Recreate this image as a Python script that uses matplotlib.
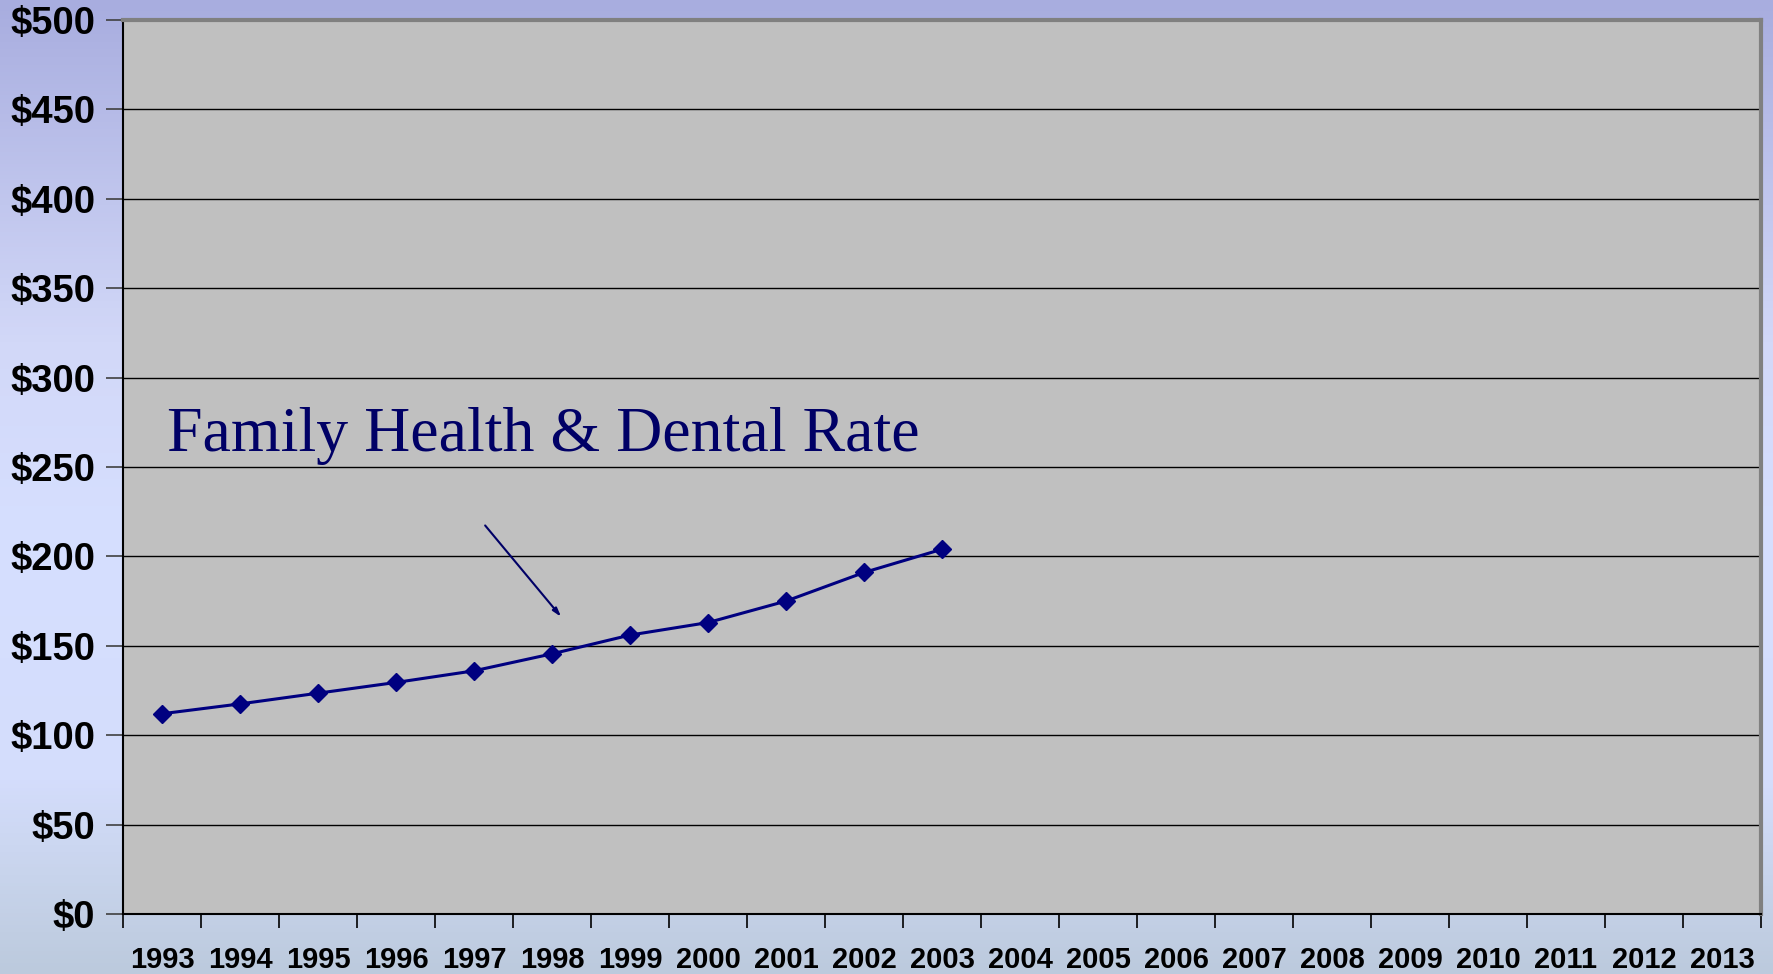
import numpy as np
import matplotlib
matplotlib.use("Agg")
import matplotlib.pyplot as plt
from matplotlib.colors import LinearSegmentedColormap

years = [str(y) for y in range(1993, 2014)]
rate_years = years[:11]
rates = [112, 117.5, 123.5, 129.5, 136, 145.5, 156, 163, 175, 191, 204]
yticks = list(range(0, 501, 50))

W, H = 1774, 974
fig = plt.figure(figsize=(W / 100, H / 100), dpi=100)

# background gradient
bg = fig.add_axes([0, 0, 1, 1], zorder=-10)
bg_cmap = LinearSegmentedColormap.from_list("bg", [
    (0.0, "#a8addf"), (0.35, "#d2d8f8"), (0.55, "#d6dfff"),
    (0.8, "#d4ddfc"), (0.9, "#c8d4ec"), (1.0, "#bccadd")])
bg.imshow(np.linspace(0, 1, 256).reshape(-1, 1), aspect="auto", cmap=bg_cmap,
          extent=[0, 1, 0, 1])
bg.set_axis_off()

ax = fig.add_axes([123 / W, (H - 914) / H, 1638 / W, 894 / H])
ax.set_facecolor("#c0c0c0")

x = np.arange(len(years))
ax.plot(x[:len(rates)], rates, color="#000080", lw=2.2, marker="D",
        markersize=9.5, zorder=3)

ax.set_xlim(-0.5, len(years) - 0.5)
ax.set_ylim(0, 500)
ax.set_yticks(yticks)
ax.set_yticklabels([f"${v}" for v in yticks])
ax.yaxis.grid(True, color="black", lw=1.0)
ax.set_axisbelow(True)

ax.set_xticks(x)
ax.set_xticklabels(years)
ax.set_xticks(np.arange(-0.5, len(years)), minor=True)
ax.tick_params(axis="x", which="major", length=0, pad=23)
ax.tick_params(axis="x", which="minor", length=10, width=1.2, color="black")
ax.tick_params(axis="y", length=12, width=1.2, color="#404040", pad=8)

for lab in ax.get_xticklabels():
    lab.set_fontfamily("Liberation Sans")
    lab.set_fontweight("bold")
    lab.set_fontsize(21)
for lab in ax.get_yticklabels():
    lab.set_fontfamily("Liberation Sans")
    lab.set_fontweight("bold")
    lab.set_fontsize(27.5)

for s in ["left", "bottom"]:
    ax.spines[s].set_color("black")
    ax.spines[s].set_linewidth(1.5)
for s in ["top", "right"]:
    ax.spines[s].set_color("#808080")
    ax.spines[s].set_linewidth(3)

ax.text(0.06, 259, "Family Health & Dental Rate", fontfamily="Liberation Serif",
        fontsize=46, color="#000066", va="baseline", ha="left")
ax.annotate("", xy=(5.14, 165), xytext=(4.12, 218.5),
            arrowprops=dict(arrowstyle="-|>,head_length=0.5,head_width=0.15",
                            color="#000066", lw=1.5))

fig.savefig("out.png", dpi=100)
